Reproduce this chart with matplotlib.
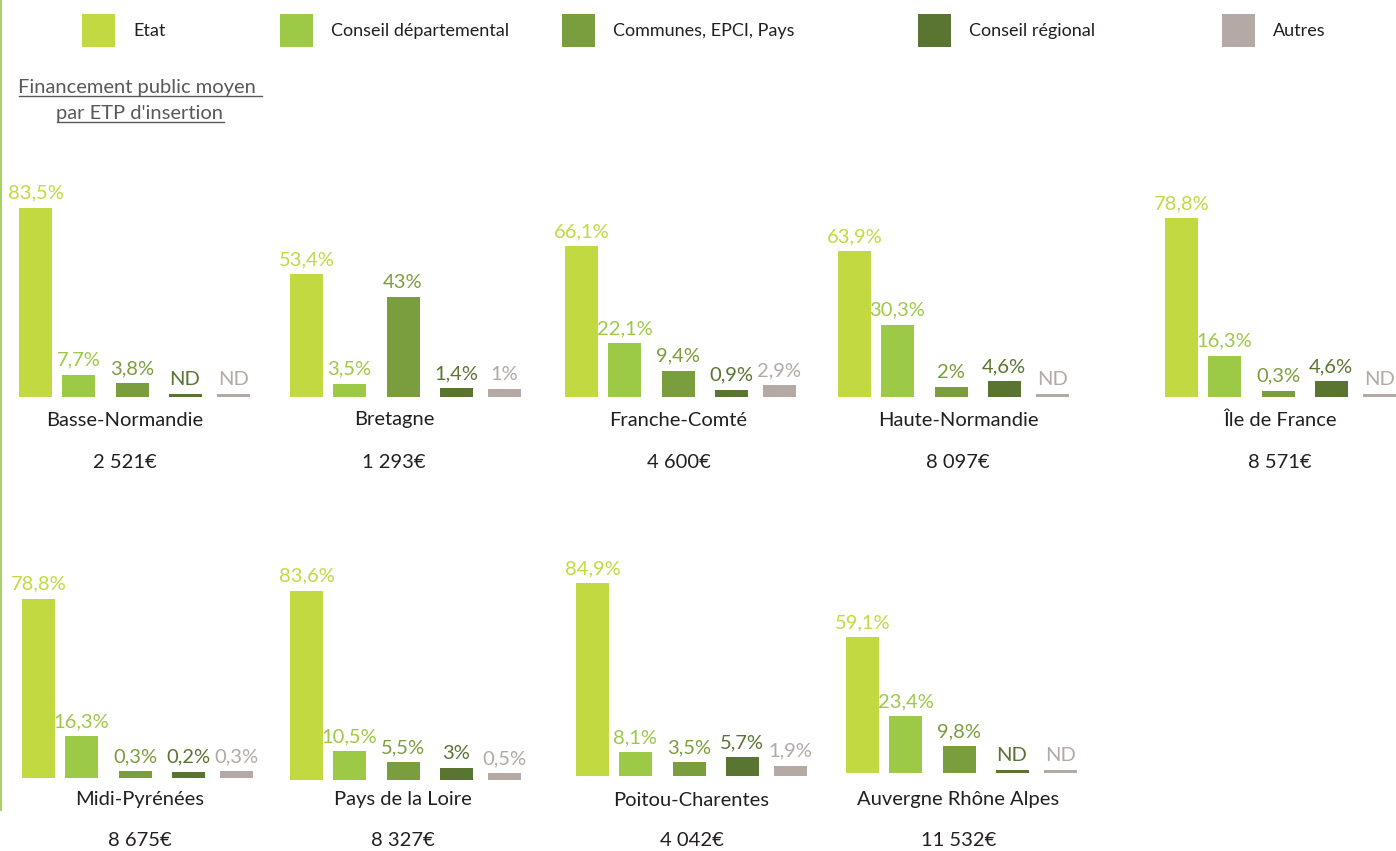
import matplotlib
matplotlib.use("Agg")
import matplotlib.pyplot as plt
from matplotlib.patches import Rectangle
from matplotlib.lines import Line2D

plt.rcParams['font.family'] = ['Lato', 'DejaVu Sans']

# ---------------- data ----------------
regions = ["Basse-Normandie", "Bretagne", "Franche-Comté", "Haute-Normandie", "Île de France",
           "Midi-Pyrénées", "Pays de la Loire", "Poitou-Charentes", "Auvergne Rhône Alpes"]
amounts = ["2 521€", "1 293€", "4 600€", "8 097€", "8 571€",
           "8 675€", "8 327€", "4 042€", "11 532€"]
series_names = ["Etat", "Conseil départemental", "Communes, EPCI, Pays", "Conseil régional", "Autres"]
etat = [83.5, 53.4, 66.1, 63.9, 78.8, 78.8, 83.6, 84.9, 59.1]
conseil_dep = [7.7, 3.5, 22.1, 30.3, 16.3, 16.3, 10.5, 8.1, 23.4]
communes = [3.8, 43, 9.4, 2, 0.3, 0.3, 5.5, 3.5, 9.8]
conseil_reg = [None, 1.4, 0.9, 4.6, 4.6, 0.2, 3, 5.7, None]
autres = [None, 1, 2.9, None, None, 0.3, 0.5, 1.9, None]
title_lines = ["Financement public moyen ", "par ETP d'insertion"]

# ---------------- styles / layout ----------------
colors = ["#c3d941", "#9cc946", "#7a9e3e", "#5a7432", "#b4a9a4"]
text_dark = "#231f20"
W, H = 1396, 851
PX_PER_UNIT = 2.2           # vertical pixels per percent
BASE = 2.5                  # small visual foot added under every bar
ND_H = 1.3                  # thickness of the "ND" line
bar_centers = [16.5, 59.5, 113, 166, 214.5]   # px inside a panel
bar_w = 33
panel_w = 240
panel_h = 215
# (left of first bar, baseline y, label centre offset, label row)
panel_layout = [(19, 397, 105.5, 0), (290, 397, 104, 0), (565, 397, 113.5, 0),
                (838, 397, 120, 0), (1165, 397, 115, 0),
                (22, 777.5, 117.5, 1), (290, 780, 112.5, 1), (576, 775.5, 115.5, 1),
                (846, 773, 112.5, 1)]
row_name_y = [420, 800]
row_amount_y = [462, 840]
legend_x = [82, 280, 562, 918, 1222]

fig = plt.figure(figsize=(W / 100, H / 100), dpi=100)
fig.patch.set_facecolor("white")


def fx(x):
    return x / W


def fy(y):
    return 1 - y / H


# left accent line
fig.add_artist(Line2D([fx(1), fx(1)], [fy(0), fy(810)], color="#a9d06a", lw=1.5))

# legend
for x, name, c in zip(legend_x, series_names, colors):
    fig.add_artist(Rectangle((fx(x), fy(47)), 33 / W, 33 / H, facecolor=c, edgecolor="none",
                             transform=fig.transFigure))
    fig.text(fx(x + 51), fy(31), name, fontsize=13, color=text_dark, va="center", ha="left")

# title (underlined)
title_texts = []
for line, yb in zip(title_lines, [93, 119]):
    t = fig.text(fx(140), fy(yb), line, fontsize=14.5, color="#58595b", ha="center", va="baseline")
    title_texts.append(t)

fmt = lambda v: "ND" if v is None else (f"{v:g}".replace(".", ",") + "%")

all_series = [etat, conseil_dep, communes, conseil_reg, autres]

for i, (left, base_y, lab_off, row) in enumerate(panel_layout):
    ax = fig.add_axes([fx(left), fy(base_y), panel_w / W, panel_h / H])
    ax.set_xlim(0, panel_w)
    ax.set_ylim(-BASE, -BASE + panel_h / PX_PER_UNIT)
    ax.axis("off")
    for k in range(5):
        v = all_series[k][i]
        h = ND_H if v is None else v + BASE
        ax.bar(bar_centers[k], h, bottom=-BASE, width=bar_w, color=colors[k], linewidth=0)
        ax.annotate(fmt(v), xy=(bar_centers[k], -BASE + h), xytext=(0, 9),
                    textcoords="offset pixels", ha="center", va="baseline",
                    fontsize=14.5, color=colors[k], annotation_clip=False)
    fig.text(fx(left + lab_off), fy(row_name_y[row]), regions[i], fontsize=14.5,
             color=text_dark, ha="center", va="center")
    fig.text(fx(left + lab_off), fy(row_amount_y[row]), amounts[i], fontsize=14.5,
             color=text_dark, ha="center", va="center")

# draw underlines under title lines
fig.canvas.draw()
renderer = fig.canvas.get_renderer()
for t, yb in zip(title_texts, [93, 119]):
    bb = t.get_window_extent(renderer)
    fig.add_artist(Line2D([bb.x0 / W, bb.x1 / W], [fy(yb + 3), fy(yb + 3)],
                          color="#58595b", lw=1.0))

fig.savefig("out.png", dpi=100, facecolor="white")
